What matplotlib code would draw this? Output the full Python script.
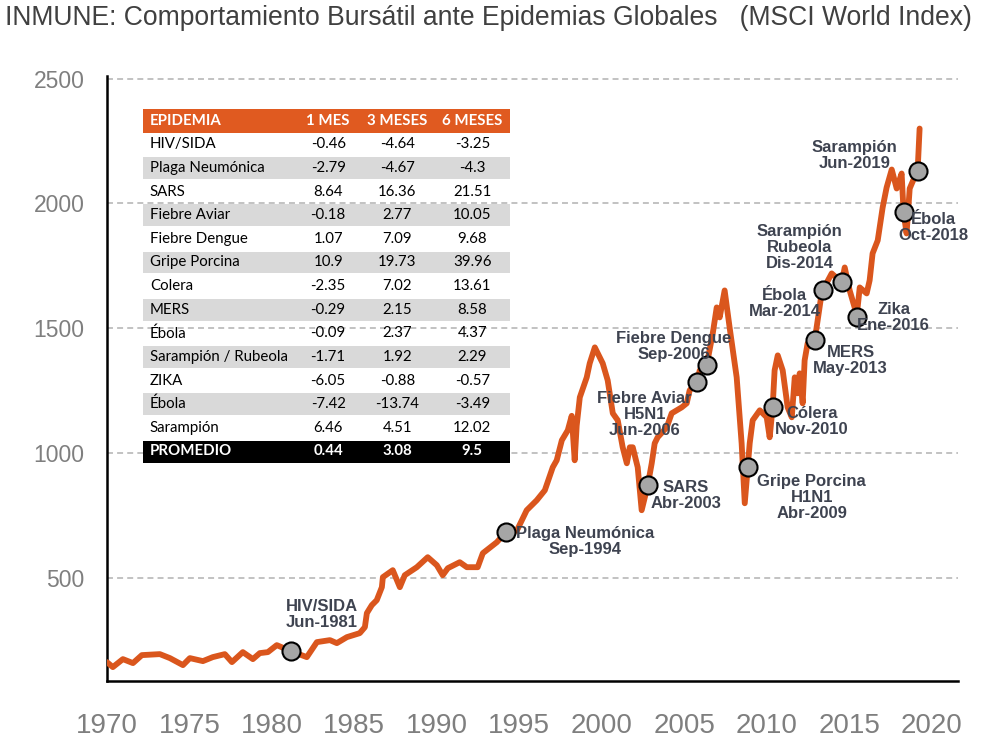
import matplotlib.pyplot as plt
from matplotlib.patches import Rectangle
import numpy as np

# MSCI World Index
years = [1970.0, 1970.36, 1970.97, 1971.58, 1972.12, 1973.21, 1973.82, 1974.61, 1975.03, 1975.82,
         1976.42, 1977.15, 1977.58, 1978.24, 1978.85, 1979.27, 1979.76, 1980.30, 1981.15, 1982.12,
         1982.73, 1983.52, 1983.94, 1984.55, 1985.33, 1985.64, 1985.76, 1986.06, 1986.36, 1986.67,
         1986.73, 1987.33, 1987.76, 1988.06, 1988.79, 1989.45, 1990.00, 1990.36, 1990.67, 1991.39,
         1991.82, 1992.48, 1992.79, 1993.64, 1994.18, 1994.85, 1995.45, 1996.06, 1996.55, 1997.03,
         1997.27, 1997.58, 1997.94, 1998.18, 1998.36, 1998.48, 1998.67, 1999.09, 1999.27, 1999.58,
         2000.06, 2000.36, 2000.67, 2000.97, 2001.27, 2001.52, 2001.70, 2001.88, 2002.18, 2002.42,
         2002.61, 2002.79, 2003.03, 2003.21, 2003.39, 2003.94, 2004.24, 2004.55, 2004.85, 2005.15,
         2005.33, 2005.76, 2005.94, 2006.36, 2006.73, 2006.97, 2007.15, 2007.45, 2007.76, 2008.18,
         2008.48, 2008.67, 2008.85, 2008.97, 2009.15, 2009.58, 2010.00, 2010.18, 2010.36, 2010.48,
         2010.67, 2010.97, 2011.27, 2011.52, 2011.70, 2011.88, 2012.00, 2012.18, 2012.30, 2012.48,
         2012.91, 2013.09, 2013.33, 2013.39, 2013.94, 2014.55, 2014.73, 2015.03, 2015.33, 2015.45,
         2015.64, 2016.06, 2016.24, 2016.42, 2016.73, 2017.03, 2017.27, 2017.58, 2017.88, 2018.18,
         2018.30, 2018.48, 2018.67, 2018.85, 2019.15, 2019.27]
msci = [164, 144, 176, 160, 192, 196, 180, 152, 180, 168,
        184, 196, 164, 204, 176, 200, 204, 232, 208, 184,
        244, 252, 240, 264, 280, 304, 360, 392, 412, 464,
        504, 532, 464, 512, 544, 584, 552, 512, 540, 564,
        544, 544, 600, 644, 684, 690, 772, 812, 852, 944,
        972, 1052, 1092, 1150, 972, 1110, 1224, 1304, 1360, 1424,
        1360, 1292, 1160, 1132, 1024, 960, 1024, 1024, 944, 772,
        824, 872, 960, 1040, 1064, 1104, 1160, 1172, 1184, 1200,
        1252, 1284, 1332, 1352, 1480, 1584, 1544, 1652, 1500, 1304,
        1040, 800, 944, 1040, 1132, 1172, 1144, 1064, 1184, 1332,
        1392, 1332, 1184, 1144, 1304, 1240, 1320, 1200, 1372, 1440,
        1452, 1532, 1640, 1652, 1720, 1684, 1744, 1652, 1584, 1544,
        1664, 1640, 1692, 1800, 1852, 1984, 2064, 2136, 2060, 2120,
        1964, 1880, 2060, 2088, 2132, 2300]

event_labels = ["HIV/SIDA\nJun-1981", "Plaga Neumónica\nSep-1994", "SARS\nAbr-2003",
                "Fiebre Aviar\nH5N1\nJun-2006", "Fiebre Dengue\nSep-2006",
                "Gripe Porcina\nH1N1\nAbr-2009", "Cólera\nNov-2010", "MERS\nMay-2013",
                "Ébola\nMar-2014", "Sarampión\nRubeola\nDis-2014", "Zika\nEne-2016",
                "Ébola\nOct-2018", "Sarampión\nJun-2019"]
event_years = [1981.15, 1994.18, 2002.79, 2005.76, 2006.36, 2008.85, 2010.36, 2012.91,
               2013.39, 2014.55, 2015.45, 2018.30, 2019.15]
# label offset from marker, pixels
label_offsets = [(31, 37), (79, -9), (38, -10), (-52, -32), (-33, 19), (64, -30), (39, -14),
                 (36, -20), (-38, -13), (-42, 35), (37, 0), (30, -15), (-63, 15)]

# table
table_header = ["EPIDEMIA", "1 MES", "3 MESES", "6 MESES"]
epidemias = ["HIV/SIDA", "Plaga Neumónica", "SARS", "Fiebre Aviar", "Fiebre Dengue",
             "Gripe Porcina", "Colera", "MERS", "Ébola", "Sarampión / Rubeola", "ZIKA",
             "Ébola", "Sarampión"]
mes_1 = [-0.46, -2.79, 8.64, -0.18, 1.07, 10.9, -2.35, -0.29, -0.09, -1.71, -6.05, -7.42, 6.46]
mes_3 = [-4.64, -4.67, 16.36, 2.77, 7.09, 19.73, 7.02, 2.15, 2.37, 1.92, -0.88, -13.74, 4.51]
mes_6 = [-3.25, -4.3, 21.51, 10.05, 9.68, 39.96, 13.61, 8.58, 4.37, 2.29, -0.57, -3.49, 12.02]
promedio = [0.44, 3.08, 9.5]

line_color = "#DA561D"
header_color = "#E05A20"
label_color = "#3E4350"
sans = "Liberation Sans"

fig = plt.figure(figsize=(9.99, 7.46), dpi=100)
ax = fig.add_axes([0.107, 0.087, 0.852, 0.811])

ax.plot(years, msci, color=line_color, lw=4.2, solid_joinstyle="round",
        solid_capstyle="round", zorder=3)

ev_vals = np.interp(event_years, years, msci)
ax.plot(event_years, ev_vals, "o", ms=13, mfc="#A6A6A6", mec="black", mew=1.5, zorder=4)
for lab, x, y, off in zip(event_labels, event_years, ev_vals, label_offsets):
    ax.annotate(lab, xy=(x, y), xytext=off, textcoords="offset pixels",
                ha="center", va="center", multialignment="center",
                fontsize=12, fontweight="bold", color=label_color,
                family=sans, linespacing=1.1, zorder=5)

ax.set_xlim(1970, 2021.6)
ax.set_ylim(88, 2510)
ax.set_xticks(range(1970, 2021, 5))
ax.set_yticks([500, 1000, 1500, 2000, 2500])
ax.yaxis.grid(True, linestyle=(0, (3.3, 2.3)), color="#BDBDBD", lw=1.3, zorder=1)
ax.set_axisbelow(True)
for s in ["top", "right"]:
    ax.spines[s].set_visible(False)
for s in ["left", "bottom"]:
    ax.spines[s].set_linewidth(1.8)
ax.tick_params(length=0)
ax.tick_params(axis="x", pad=23, labelsize=20, labelcolor="#7F7F7F")
ax.tick_params(axis="y", pad=16, labelsize=16.5, labelcolor="#7F7F7F")
for t in ax.get_xticklabels() + ax.get_yticklabels():
    t.set_family(sans)

fig.text(0.005, 0.976, "INMUNE: Comportamiento Bursátil ante Epidemias Globales   (MSCI World Index)",
         fontsize=19.1, family=sans, color="#404040", va="center", ha="left")

# table
tax = fig.add_axes([0.143, 0.379, 0.368, 0.475])
tax.set_xlim(0, 1)
tax.set_ylim(15, 0)
tax.axis("off")
col_x = [0.019, 0.504, 0.692, 0.896]
tfont = "Lato"
tsize = 10.8

tax.add_patch(Rectangle((0, 0), 1, 1, color=header_color, lw=0))
for j, h in enumerate(table_header):
    tax.text(col_x[j], 0.5, h, ha="left" if j == 0 else "center", va="center",
             color="white", fontweight="bold", fontsize=tsize, family=tfont)

for i, (name, a, b, c) in enumerate(zip(epidemias, mes_1, mes_3, mes_6)):
    r = i + 1
    if r % 2 == 0:
        tax.add_patch(Rectangle((0, r + 0.04), 1, 0.92, color="#D9D9D9", lw=0))
    tax.text(col_x[0], r + 0.5, name, ha="left", va="center", fontsize=tsize, family=tfont,
             color="black")
    for j, v in enumerate([a, b, c]):
        tax.text(col_x[j + 1], r + 0.5, str(v), ha="center", va="center", fontsize=tsize,
                 family=tfont, color="black")

tax.add_patch(Rectangle((0, 14.04), 1, 0.96, color="black", lw=0))
tax.text(col_x[0], 14.5, "PROMEDIO", ha="left", va="center", color="white",
         fontweight="bold", fontsize=tsize, family=tfont)
for j, v in enumerate(promedio):
    tax.text(col_x[j + 1], 14.5, str(v), ha="center", va="center", color="white",
             fontweight="bold", fontsize=tsize, family=tfont)

fig.savefig("out.png", dpi=100)
